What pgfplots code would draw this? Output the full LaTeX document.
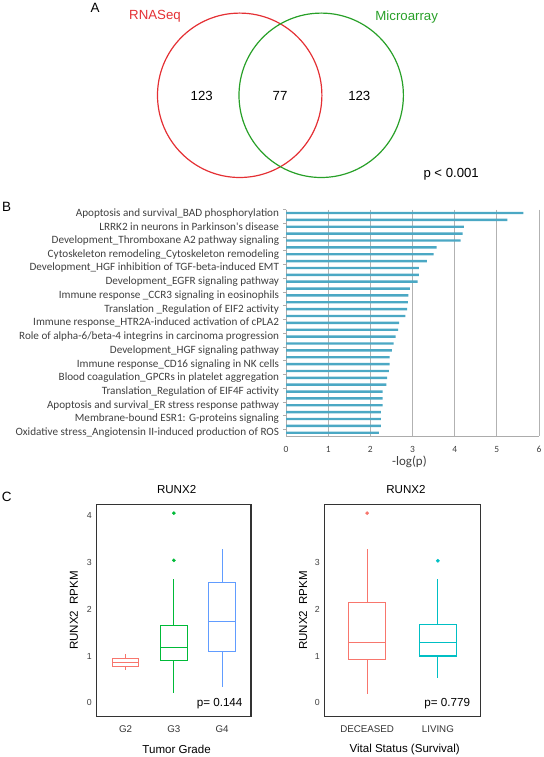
\documentclass[border=0pt]{standalone}
\usepackage{fontspec}
\setmainfont{Liberation Sans}
\newfontfamily\carlito{Carlito}
\usepackage{pgfplots}
\usepackage{pgfplotstable}
\pgfplotsset{compat=1.18}
\usepgfplotslibrary{statistics}

\definecolor{vred}{RGB}{228,48,52}
\definecolor{vgreen}{RGB}{40,160,40}
\definecolor{barc}{RGB}{75,168,196}
\definecolor{ggred}{HTML}{F8766D}
\definecolor{gggreen}{HTML}{00BA38}
\definecolor{ggblue}{HTML}{619CFF}
\definecolor{ggcyan}{HTML}{00BFC4}
\definecolor{frame}{RGB}{51,51,51}
\definecolor{txt}{RGB}{64,64,64}

\pgfplotstableread{
idx val
1 5.63
2 5.25
3 4.22
4 4.19
5 4.14
6 3.57
7 3.50
8 3.34
9 3.15
10 3.15
11 3.12
12 2.94
13 2.90
14 2.89
15 2.87
16 2.83
17 2.68
18 2.66
19 2.60
20 2.55
21 2.51
22 2.46
23 2.46
24 2.44
25 2.40
26 2.38
27 2.29
28 2.29
29 2.29
30 2.25
31 2.25
32 2.25
33 2.20
}\bardata

\pgfplotstableread{
x y n
201.7 95.7 123
280.0 95.7 77
359.3 95.7 123
}\venndata

\pgfplotsset{boxax/.style={anchor=south west, scale only axis, height=212.4bp,
  ymin=-0.3, ymax=4.25,
  /pgf/number format/assume math mode=true,
  axis line style={draw=frame, line width=1.3bp},
  tick style={draw=none},
  xticklabel style={font=\fontsize{9.8}{10}\selectfont, text=black!80, anchor=base, inner sep=0pt, yshift=-15.5bp},
  yticklabel style={font=\fontsize{8.8}{9}\selectfont, text=black!75, anchor=east, inner sep=0pt, xshift=-4.8bp},
  title style={font=\fontsize{11.6}{12}\selectfont, anchor=base, inner sep=0pt, yshift=4.4bp},
  label style={font=\fontsize{11.6}{12}\selectfont, inner sep=0pt},
  boxplot/draw direction=y,
  boxplot/whisker extend=0,
  clip=false}}

\begin{document}
\begin{tikzpicture}
\useasboundingbox (0,0) rectangle (544bp,757bp);

% ---------------- Panel A: Venn
\begin{axis}[at={(0bp,557bp)}, anchor=south west, scale only axis,
  width=544bp, height=200bp, xmin=0, xmax=544, ymin=0, ymax=200,
  y dir=reverse, axis lines=none, clip=false]
\draw[vred, line width=1.2bp] (axis cs:239.7,95.3) circle[radius=82.2];
\draw[vgreen, line width=1.2bp] (axis cs:321.2,95.3) circle[radius=82.2];
\addplot[only marks, mark=none, nodes near coords, point meta=explicit symbolic,
  nodes near coords align={center},
  every node near coord/.append style={font=\fontsize{13.3}{14}\selectfont, text=black}]
  table[x=x, y=y, meta=n] {\venndata};
\node[text=vred, font=\fontsize{13.3}{14}\selectfont] at (axis cs:155,16.7) {RNASeq};
\node[text=vgreen, font=\fontsize{13.3}{14}\selectfont] at (axis cs:406.7,16.7) {Microarray};
\node[anchor=west, inner sep=0pt, font=\fontsize{13.2}{14}\selectfont] at (axis cs:423.3,174) {p < 0.001};
\node[font=\fontsize{13.5}{14}\selectfont] at (axis cs:95,7.5) {A};
\node[font=\fontsize{13.5}{14}\selectfont] at (axis cs:6.5,207) {B};
\end{axis}

% ---------------- Panel B: bars
\begin{axis}[at={(286bp,320.8bp)}, anchor=south west, scale only axis,
  width=253bp, height=226.6bp,
  xmin=0, xmax=6, ymin=0.5, ymax=33.5, y dir=reverse,
  /pgf/number format/assume math mode=true,
  xbar, bar width=2.4bp,
  axis x line*=bottom, axis y line*=left,
  axis line style={draw=gray!65, line width=0.8bp, -},
  xmajorgrids, grid style={draw=gray!60, line width=0.8bp},
  xtick={0,...,6}, x tick style={draw=none},
  xticklabel style={font=\carlito\fontsize{9.5}{10}\selectfont, text=txt, anchor=center, yshift=-13.3bp},
  ytick={1,3,...,33}, y tick style={draw=none},
  yticklabels={
    {Apoptosis and survival\_BAD phosphorylation},
    {LRRK2 in neurons in Parkinson's disease},
    {Development\_Thromboxane A2 pathway signaling},
    {Cytoskeleton remodeling\_Cytoskeleton remodeling},
    {Development\_HGF inhibition of TGF-beta-induced EMT},
    {Development\_EGFR signaling pathway},
    {Immune response \_CCR3 signaling in eosinophils},
    {Translation \_Regulation of EIF2 activity},
    {Immune response\_HTR2A-induced activation of cPLA2},
    {Role of alpha-6/beta-4 integrins in carcinoma progression},
    {Development\_HGF signaling pathway},
    {Immune response\_CD16 signaling in NK cells},
    {Blood coagulation\_GPCRs in platelet aggregation},
    {Translation\_Regulation of EIF4F activity},
    {Apoptosis and survival\_ER stress response pathway},
    {Membrane-bound ESR1: G-proteins signaling},
    {Oxidative stress\_Angiotensin II-induced production of ROS}},
  yticklabel style={font=\carlito\fontsize{11.2}{12}\selectfont, text=txt, anchor=east, inner sep=0pt, xshift=-2.5bp},
  extra y ticks={0.5,2.5,...,32.5}, extra y tick labels={},
  extra y tick style={y tick style={draw=gray!65, line width=0.6bp}, major tick length=3bp, tick align=outside},
  xlabel={-log(p)},
  xlabel style={at={(axis description cs:0.488,0)}, anchor=center, yshift=-25.5bp,
    font=\carlito\fontsize{13}{14}\selectfont, text=txt},
  clip=false]
\addplot[fill=barc, draw=none] table[x=val, y=idx] {\bardata};
\end{axis}

% ---------------- Panel C left
\begin{axis}[boxax, at={(96.7bp,40.3bp)}, width=154.3bp,
  xmin=0.4, xmax=3.6, xtick={1,2,3}, xticklabels={G2,G3,G4},
  ytick={0,1,2,3,4},
  title={RUNX2}, title style={at={(0.518,1)}},
  ylabel={RUNX2\ \ RPKM}, ylabel style={at={(axis description cs:-0.147,0.5)}, anchor=center},
  xlabel={Tumor Grade}, xlabel style={at={(axis description cs:0.518,-0.1535)}, anchor=center}]
\addplot[ggred, line width=1.1bp, boxplot prepared={draw position=1, median=0.87,
  upper quartile=0.95, lower quartile=0.78, upper whisker=1.05, lower whisker=0.70, box extend=0.55}]
  coordinates {};
\addplot[gggreen, line width=1.1bp, mark=*, mark size=1.7bp, mark options={solid, fill=gggreen, draw=gggreen, line width=0.3bp},
  boxplot prepared={draw position=2, median=1.18,
  upper quartile=1.65, lower quartile=0.90, upper whisker=2.65, lower whisker=0.20, box extend=0.55}]
  table[row sep=\\, y index=0] {data\\ 4.06\\ 3.05\\};
\addplot[ggblue, line width=1.1bp, boxplot prepared={draw position=3, median=1.73,
  upper quartile=2.58, lower quartile=1.09, upper whisker=3.30, lower whisker=0.34, box extend=0.55}]
  coordinates {};
\node[anchor=base east, inner sep=0pt, font=\fontsize{11.7}{12}\selectfont] at (rel axis cs:0.946,0.05) {p= 0.144};
\end{axis}

% ---------------- Panel C right
\begin{axis}[boxax, at={(324.7bp,40.3bp)}, width=155.6bp,
  xmin=0.4, xmax=2.6, xtick={1,2}, xticklabels={DECEASED,LIVING},
  ytick={0,1,2,3},
  title={RUNX2}, title style={at={(0.522,1)}},
  ylabel={RUNX2\ \ RPKM}, ylabel style={at={(axis description cs:-0.139,0.5)}, anchor=center},
  xlabel={Vital Status (Survival)}, xlabel style={at={(axis description cs:0.514,-0.1535)}, anchor=center}]
\addplot[ggred, line width=1.1bp, mark=*, mark size=1.7bp, mark options={solid, fill=ggred, draw=ggred, line width=0.3bp},
  boxplot prepared={draw position=1, median=1.28,
  upper quartile=2.15, lower quartile=0.92, upper whisker=3.30, lower whisker=0.19, box extend=0.53}]
  table[row sep=\\, y index=0] {data\\ 4.06\\};
\addplot[ggcyan, line width=1.1bp, mark=*, mark size=1.7bp, mark options={solid, fill=ggcyan, draw=ggcyan, line width=0.3bp},
  boxplot prepared={draw position=2, median=1.28,
  upper quartile=1.68, lower quartile=1.00, upper whisker=2.64, lower whisker=0.52, box extend=0.53}]
  table[row sep=\\, y index=0] {data\\ 3.04\\};
\node[anchor=base east, inner sep=0pt, font=\fontsize{11.7}{12}\selectfont] at (rel axis cs:0.936,0.05) {p= 0.779};
\end{axis}

\node[font=\fontsize{13.5}{14}\selectfont] at (6.7bp,260bp) {C};
\end{tikzpicture}
\end{document}
